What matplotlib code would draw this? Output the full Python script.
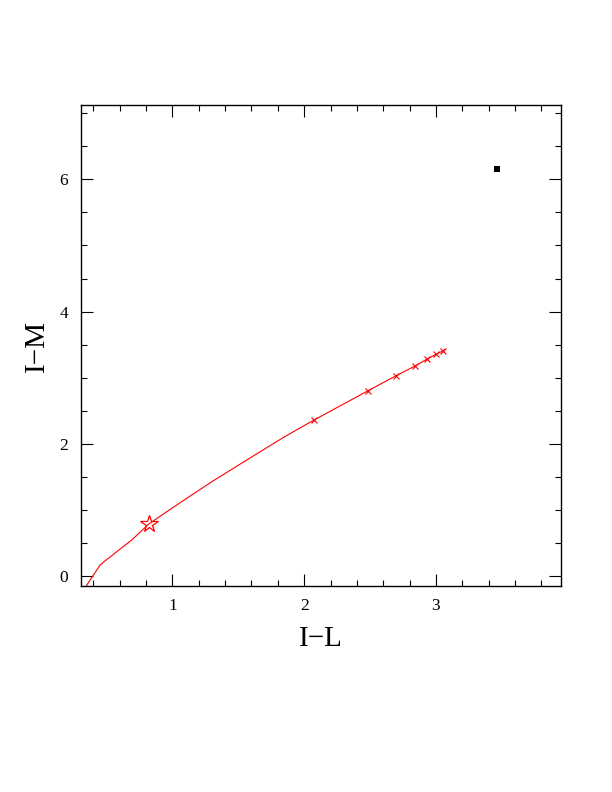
import matplotlib
matplotlib.use("Agg")
import matplotlib.pyplot as plt
from matplotlib.ticker import MultipleLocator

# Model track (red curve)
track_x = [0.343, 0.396, 0.452, 0.490, 0.540, 0.603, 0.692, 0.823, 1.00, 1.15, 1.31, 1.50, 1.65, 1.817, 1.95, 2.075, 2.482, 2.694, 2.841, 2.929, 3.000, 3.055, 3.068]
track_y = [-0.16, 0.00, 0.166, 0.231, 0.307, 0.408, 0.545, 0.790, 1.03, 1.23, 1.44, 1.675, 1.86, 2.065, 2.22, 2.36, 2.80, 3.026, 3.177, 3.278, 3.354, 3.408, 3.43]

# Crosses along the track
cross_x = [2.075, 2.482, 2.694, 2.841, 2.929, 3.000, 3.055]
cross_y = [2.36, 2.80, 3.026, 3.177, 3.278, 3.354, 3.408]

# Star marker
star_x = [0.823]
star_y = [0.790]

# Filled square
sq_x = [3.465]
sq_y = [6.157]

fig = plt.figure(figsize=(6.12, 7.92), dpi=100)
ax = fig.add_axes([0.132, 0.2597, 0.785, 0.6077])

ax.plot(track_x, track_y, color="red", lw=0.8)
ax.plot(cross_x, cross_y, ls="none", marker="x", color="red", ms=5, mew=0.8)
ax.plot(star_x, star_y, ls="none", marker="*", ms=13, mfc="none", mec="red", mew=0.9)
ax.plot(sq_x, sq_y, ls="none", marker="s", ms=5, color="black", mew=0)

ax.set_xlim(0.305, 3.95)
ax.set_ylim(-0.156, 7.125)

ax.xaxis.set_major_locator(MultipleLocator(1))
ax.xaxis.set_minor_locator(MultipleLocator(0.2))
ax.yaxis.set_major_locator(MultipleLocator(2))
ax.yaxis.set_minor_locator(MultipleLocator(0.5))

ax.tick_params(which="both", direction="in", top=True, right=True, width=0.8, color="black")
ax.tick_params(which="major", length=8.5)
ax.tick_params(which="minor", length=4)
ax.tick_params(axis="x", which="major", pad=8.5, labelsize=12.5)
ax.tick_params(axis="y", which="major", pad=9, labelsize=12.5)
for lab in ax.get_xticklabels() + ax.get_yticklabels():
    lab.set_family("Liberation Serif")
for s in ax.spines.values():
    s.set_linewidth(1.0)

ax.set_xlabel("I\u2212L", fontsize=21, family="Liberation Serif")
ax.set_ylabel("I\u2212M", fontsize=21, family="Liberation Serif")
ax.xaxis.label.set_va("center")
ax.yaxis.label.set_va("center")
ax.xaxis.set_label_coords(0.5, -0.1095)
ax.yaxis.set_label_coords(-0.091, 0.5)

fig.savefig("out.png", dpi=100)
